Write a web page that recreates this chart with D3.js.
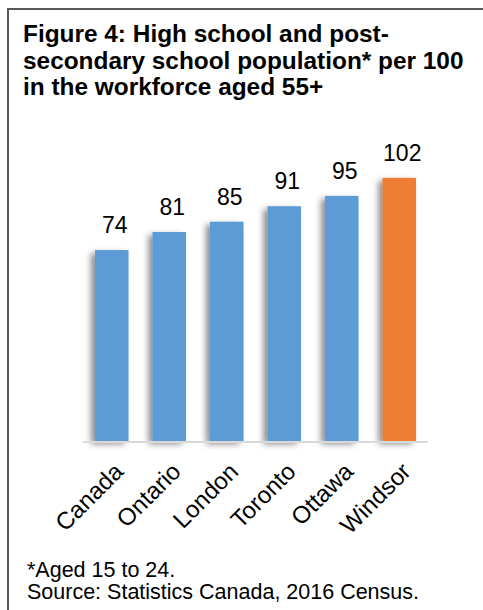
<!DOCTYPE html>
<html>
<head>
<meta charset="utf-8">
<script src="https://cdn.jsdelivr.net/npm/d3@7"></script>
<style>
  body { margin: 0; background: #fff; }
  text { font-family: "Liberation Sans", Arial, sans-serif; }
</style>
</head>
<body>
<script>
// data
var regions = ["Canada", "Ontario", "London", "Toronto", "Ottawa", "Windsor"];
var values = [74, 81, 85, 91, 95, 102];
var colors = ["#5b9bd5", "#5b9bd5", "#5b9bd5", "#5b9bd5", "#5b9bd5", "#ed7d31"];
var titleLines = ["Figure 4: High school and post-",
                  "secondary school population* per 100",
                  "in the workforce aged 55+"];
var notes = ["*Aged 15 to 24.", "Source: Statistics Canada, 2016 Census."];

const W = 483, H = 610;
const svg = d3.select("body").append("svg")
    .attr("width", W)
    .attr("height", H);

// shadow to the left of the bars
const defs = svg.append("defs");
const f = defs.append("filter").attr("id", "shadow")
    .attr("x", "-50%").attr("y", "-10%").attr("width", "200%").attr("height", "120%");
f.append("feDropShadow")
    .attr("dx", -4).attr("dy", 3).attr("stdDeviation", 3)
    .attr("flood-color", "#000").attr("flood-opacity", 0.45);

// frame: only left and top edges are visible
svg.append("path")
    .attr("d", "M8," + H + "V9H" + W)
    .attr("fill", "none")
    .attr("stroke", "#595959")
    .attr("stroke-width", 2);

// title
svg.append("g").selectAll("text")
    .data(titleLines)
    .enter().append("text")
    .attr("x", 23)
    .attr("y", (d, i) => 42 + i * 26.5)
    .attr("font-size", "24.4px")
    .attr("font-weight", "bold")
    .attr("fill", "#000")
    .text(d => d);

const x = d3.scaleBand()
    .domain(regions)
    .range([83, 428])
    .paddingInner(0.417)
    .paddingOuter(0.2085);

const y = d3.scaleLinear()
    .domain([0, 120])
    .range([441, 131.4]);

// bars
svg.append("g").selectAll("rect")
    .data(values)
    .enter().append("rect")
    .attr("x", (d, i) => x(regions[i]))
    .attr("y", d => y(d))
    .attr("width", x.bandwidth())
    .attr("height", d => y(0) - y(d))
    .attr("fill", (d, i) => colors[i])
    .attr("filter", "url(#shadow)");

// baseline
svg.append("line")
    .attr("x1", 83).attr("x2", 428)
    .attr("y1", y(0) + 1).attr("y2", y(0) + 1)
    .attr("stroke", "#d9d9d9")
    .attr("stroke-width", 2);

// value labels
svg.append("g").selectAll("text")
    .data(values)
    .enter().append("text")
    .attr("x", (d, i) => x(regions[i]) + x.bandwidth() / 2 + 3)
    .attr("y", d => y(d) - 17)
    .attr("text-anchor", "middle")
    .attr("font-size", "23px")
    .attr("fill", "#000")
    .text(d => d);

// category labels, rotated
svg.append("g").selectAll("text")
    .data(regions)
    .enter().append("text")
    .attr("text-anchor", "end")
    .attr("font-size", "24px")
    .attr("fill", "#000")
    .attr("transform", d => "translate(" + (x(d) + x.bandwidth() / 2 + 13) + "," + (y(0) + 32) + ") rotate(-45)")
    .text(d => d);

// notes
svg.append("g").selectAll("text")
    .data(notes)
    .enter().append("text")
    .attr("x", 27)
    .attr("y", (d, i) => 577 + i * 22)
    .attr("font-size", "21.5px")
    .attr("fill", "#000")
    .text(d => d);
</script>
</body>
</html>
